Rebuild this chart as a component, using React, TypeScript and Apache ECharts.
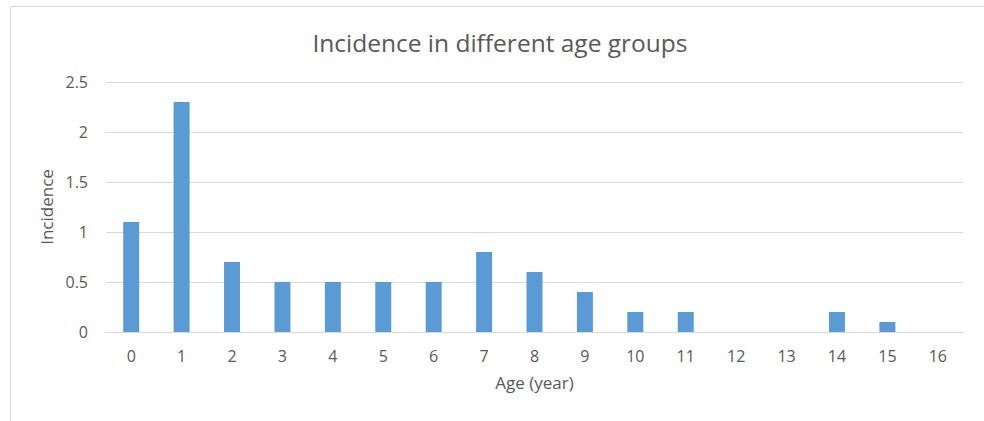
import React, { useEffect, useRef } from "react";
import * as echarts from "echarts";

const categories = ["0", "1", "2", "3", "4", "5", "6", "7", "8", "9", "10", "11", "12", "13", "14", "15", "16"];
const incidence = [1.1, 2.3, 0.7, 0.5, 0.5, 0.5, 0.5, 0.8, 0.6, 0.4, 0.2, 0.2, 0, 0, 0.2, 0.1, 0];
const titleText = "Incidence in different age groups";
const xName = "Age (year)";
const yName = "Incidence";

export default function App() {
  const ref = useRef<HTMLDivElement>(null);
  useEffect(() => {
    const chart = echarts.init(ref.current!, undefined, { renderer: "svg" });
    const font = "'Open Sans', 'Liberation Sans', sans-serif";
    chart.setOption({
      animation: false,
      backgroundColor: "#ffffff",
      textStyle: { fontFamily: font },
      title: {
        text: titleText,
        left: 495,
        textAlign: "center",
        top: 25,
        textStyle: { fontFamily: font, fontSize: 24.5, fontWeight: "normal", color: "#595959" },
      },
      graphic: [
        {
          type: "rect",
          shape: { x: 10.5, y: 6.5, width: 1000, height: 500 },
          style: { fill: "none", stroke: "#D9D9D9", lineWidth: 1 },
          silent: true,
        },
      ],
      grid: { left: 106, right: 21, top: 82, bottom: 89, containLabel: false },
      xAxis: {
        type: "category",
        data: categories,
        name: xName,
        nameLocation: "middle",
        nameGap: 42,
        nameTextStyle: { fontFamily: font, fontSize: 17, color: "#595959" },
        axisLine: { show: true, lineStyle: { color: "#D9D9D9", width: 1 } },
        axisTick: { show: false },
        axisLabel: { fontFamily: font, fontSize: 16, color: "#595959", margin: 16 },
      },
      yAxis: {
        type: "value",
        min: 0,
        max: 2.5,
        interval: 0.5,
        name: yName,
        nameLocation: "middle",
        nameGap: 50,
        nameRotate: 90,
        nameTextStyle: { fontFamily: font, fontSize: 17, color: "#595959" },
        axisLine: { show: false },
        axisTick: { show: false },
        axisLabel: { fontFamily: font, fontSize: 16, color: "#595959", margin: 18 },
        splitLine: { show: true, lineStyle: { color: "#D9D9D9", width: 1 } },
      },
      series: [
        {
          type: "bar",
          data: incidence,
          barWidth: 16,
          itemStyle: { color: "#5B9BD5" },
        },
      ],
    });
    return () => chart.dispose();
  }, []);
  return <div ref={ref} style={{ width: 984, height: 421, position: "absolute", left: 0, top: 0 }} />;
}
